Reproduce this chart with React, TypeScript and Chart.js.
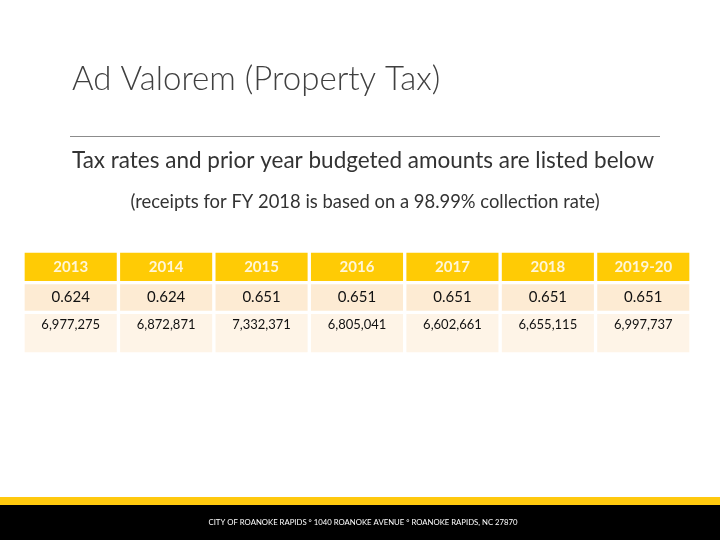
import { useEffect, useRef } from 'react';
import { Chart, registerables } from 'chart.js';

Chart.register(...registerables);

// ---- data ----
const title = 'Ad Valorem (Property Tax)';
const subtitle = 'Tax rates and prior year budgeted amounts are listed below';
const note = '(receipts for FY 2018 is based on a 98.99% collection rate)';
const footer = 'CITY OF ROANOKE RAPIDS \u00B0 1040 ROANOKE AVENUE \u00B0 ROANOKE RAPIDS, NC 27870';

const years = ['2013', '2014', '2015', '2016', '2017', '2018', '2019-20'];
const taxRates = [0.624, 0.624, 0.651, 0.651, 0.651, 0.651, 0.651];
const budgetedAmounts = [6977275, 6872871, 7332371, 6805041, 6602661, 6655115, 6997737];

// ---- styles ----
const FONT = 'Lato, "Open Sans", sans-serif';
const rowHeights = [32, 30, 42];
const rowColors = ['#FFCB05', '#FDEBD3', '#FEF4E7'];
const textColors = ['#FFF6D8', '#111111', '#111111'];
const textFonts = [`bold 15px ${FONT}`, `15px ${FONT}`, `13px ${FONT}`];

function spans() {
  const out: [number, number][] = [];
  let acc = 0;
  for (const h of rowHeights) {
    out.push([acc, acc + h]);
    acc += h;
  }
  return out;
}

export default function App() {
  const ref = useRef<HTMLCanvasElement | null>(null);

  useEffect(() => {
    document.body.style.margin = '0';
    const canvas = ref.current!;
    const rows = spans();
    const texts = [
      years,
      taxRates.map((v) => v.toFixed(3)),
      budgetedAmounts.map((v) => v.toLocaleString('en-US')),
    ];

    const slidePlugin = {
      id: 'slide',
      beforeDraw(chart: any) {
        const ctx = chart.ctx as CanvasRenderingContext2D;
        ctx.save();
        ctx.fillStyle = '#ffffff';
        ctx.fillRect(0, 0, chart.width, chart.height);
        // title
        ctx.fillStyle = '#404040';
        ctx.font = `300 33px ${FONT}`;
        ctx.textAlign = 'left';
        ctx.textBaseline = 'middle';
        ctx.fillText(title, 72, 79);
        // rule
        ctx.strokeStyle = '#8c8c8c';
        ctx.lineWidth = 1;
        ctx.beginPath();
        ctx.moveTo(70, 136.5);
        ctx.lineTo(660, 136.5);
        ctx.stroke();
        // subtitles
        ctx.textAlign = 'center';
        ctx.fillStyle = '#333333';
        ctx.font = `22.5px ${FONT}`;
        ctx.fillText(subtitle, 363, 161);
        ctx.font = `18.4px ${FONT}`;
        ctx.fillText(note, 365, 202);
        // footer
        ctx.fillStyle = '#FFC90E';
        ctx.fillRect(0, 497, chart.width, 8);
        ctx.fillStyle = '#000000';
        ctx.fillRect(0, 505, chart.width, 35);
        ctx.fillStyle = '#ffffff';
        ctx.font = `7.75px ${FONT}`;
        ctx.fillText(footer, 363, 522);
        ctx.restore();
      },
      afterDatasetsDraw(chart: any) {
        const ctx = chart.ctx as CanvasRenderingContext2D;
        ctx.save();
        ctx.textAlign = 'center';
        ctx.textBaseline = 'middle';
        chart.data.datasets.forEach((ds: any, di: number) => {
          const meta = chart.getDatasetMeta(di);
          ctx.font = textFonts[di];
          ctx.fillStyle = textColors[di];
          meta.data.forEach((el: any, i: number) => {
            const { x, y, base } = el.getProps(['x', 'y', 'base'], true);
            const top = Math.min(y, base);
            const bottom = Math.max(y, base);
            const ty = di === 2 ? top + 12 : (top + bottom) / 2;
            ctx.fillText(texts[di][i], x, ty);
          });
        });
        ctx.restore();
      },
    };

    const chart = new Chart(canvas, {
      type: 'bar',
      data: {
        labels: years,
        datasets: rows.map((span, ri) => ({
          label: `row${ri}`,
          data: years.map(() => span),
          backgroundColor: rowColors[ri],
          borderColor: '#ffffff',
          borderWidth: 2,
          borderSkipped: false,
          grouped: false,
          barPercentage: 1,
          categoryPercentage: 1,
        })) as any,
      },
      options: {
        responsive: false,
        animation: false,
        devicePixelRatio: 1,
        layout: { padding: { left: 23, right: 29, top: 251, bottom: 186 } },
        plugins: { legend: { display: false }, tooltip: { enabled: false } },
        scales: {
          x: { type: 'category', display: false, offset: true },
          y: {
            type: 'linear',
            display: false,
            reverse: true,
            min: 0,
            max: rowHeights.reduce((a, b) => a + b, 0),
          },
        },
      },
      plugins: [slidePlugin],
    });
    return () => chart.destroy();
  }, []);

  return (
    <div style={{ position: 'absolute', left: 0, top: 0, width: 720, height: 540 }}>
      <canvas ref={ref} width={720} height={540} />
    </div>
  );
}
